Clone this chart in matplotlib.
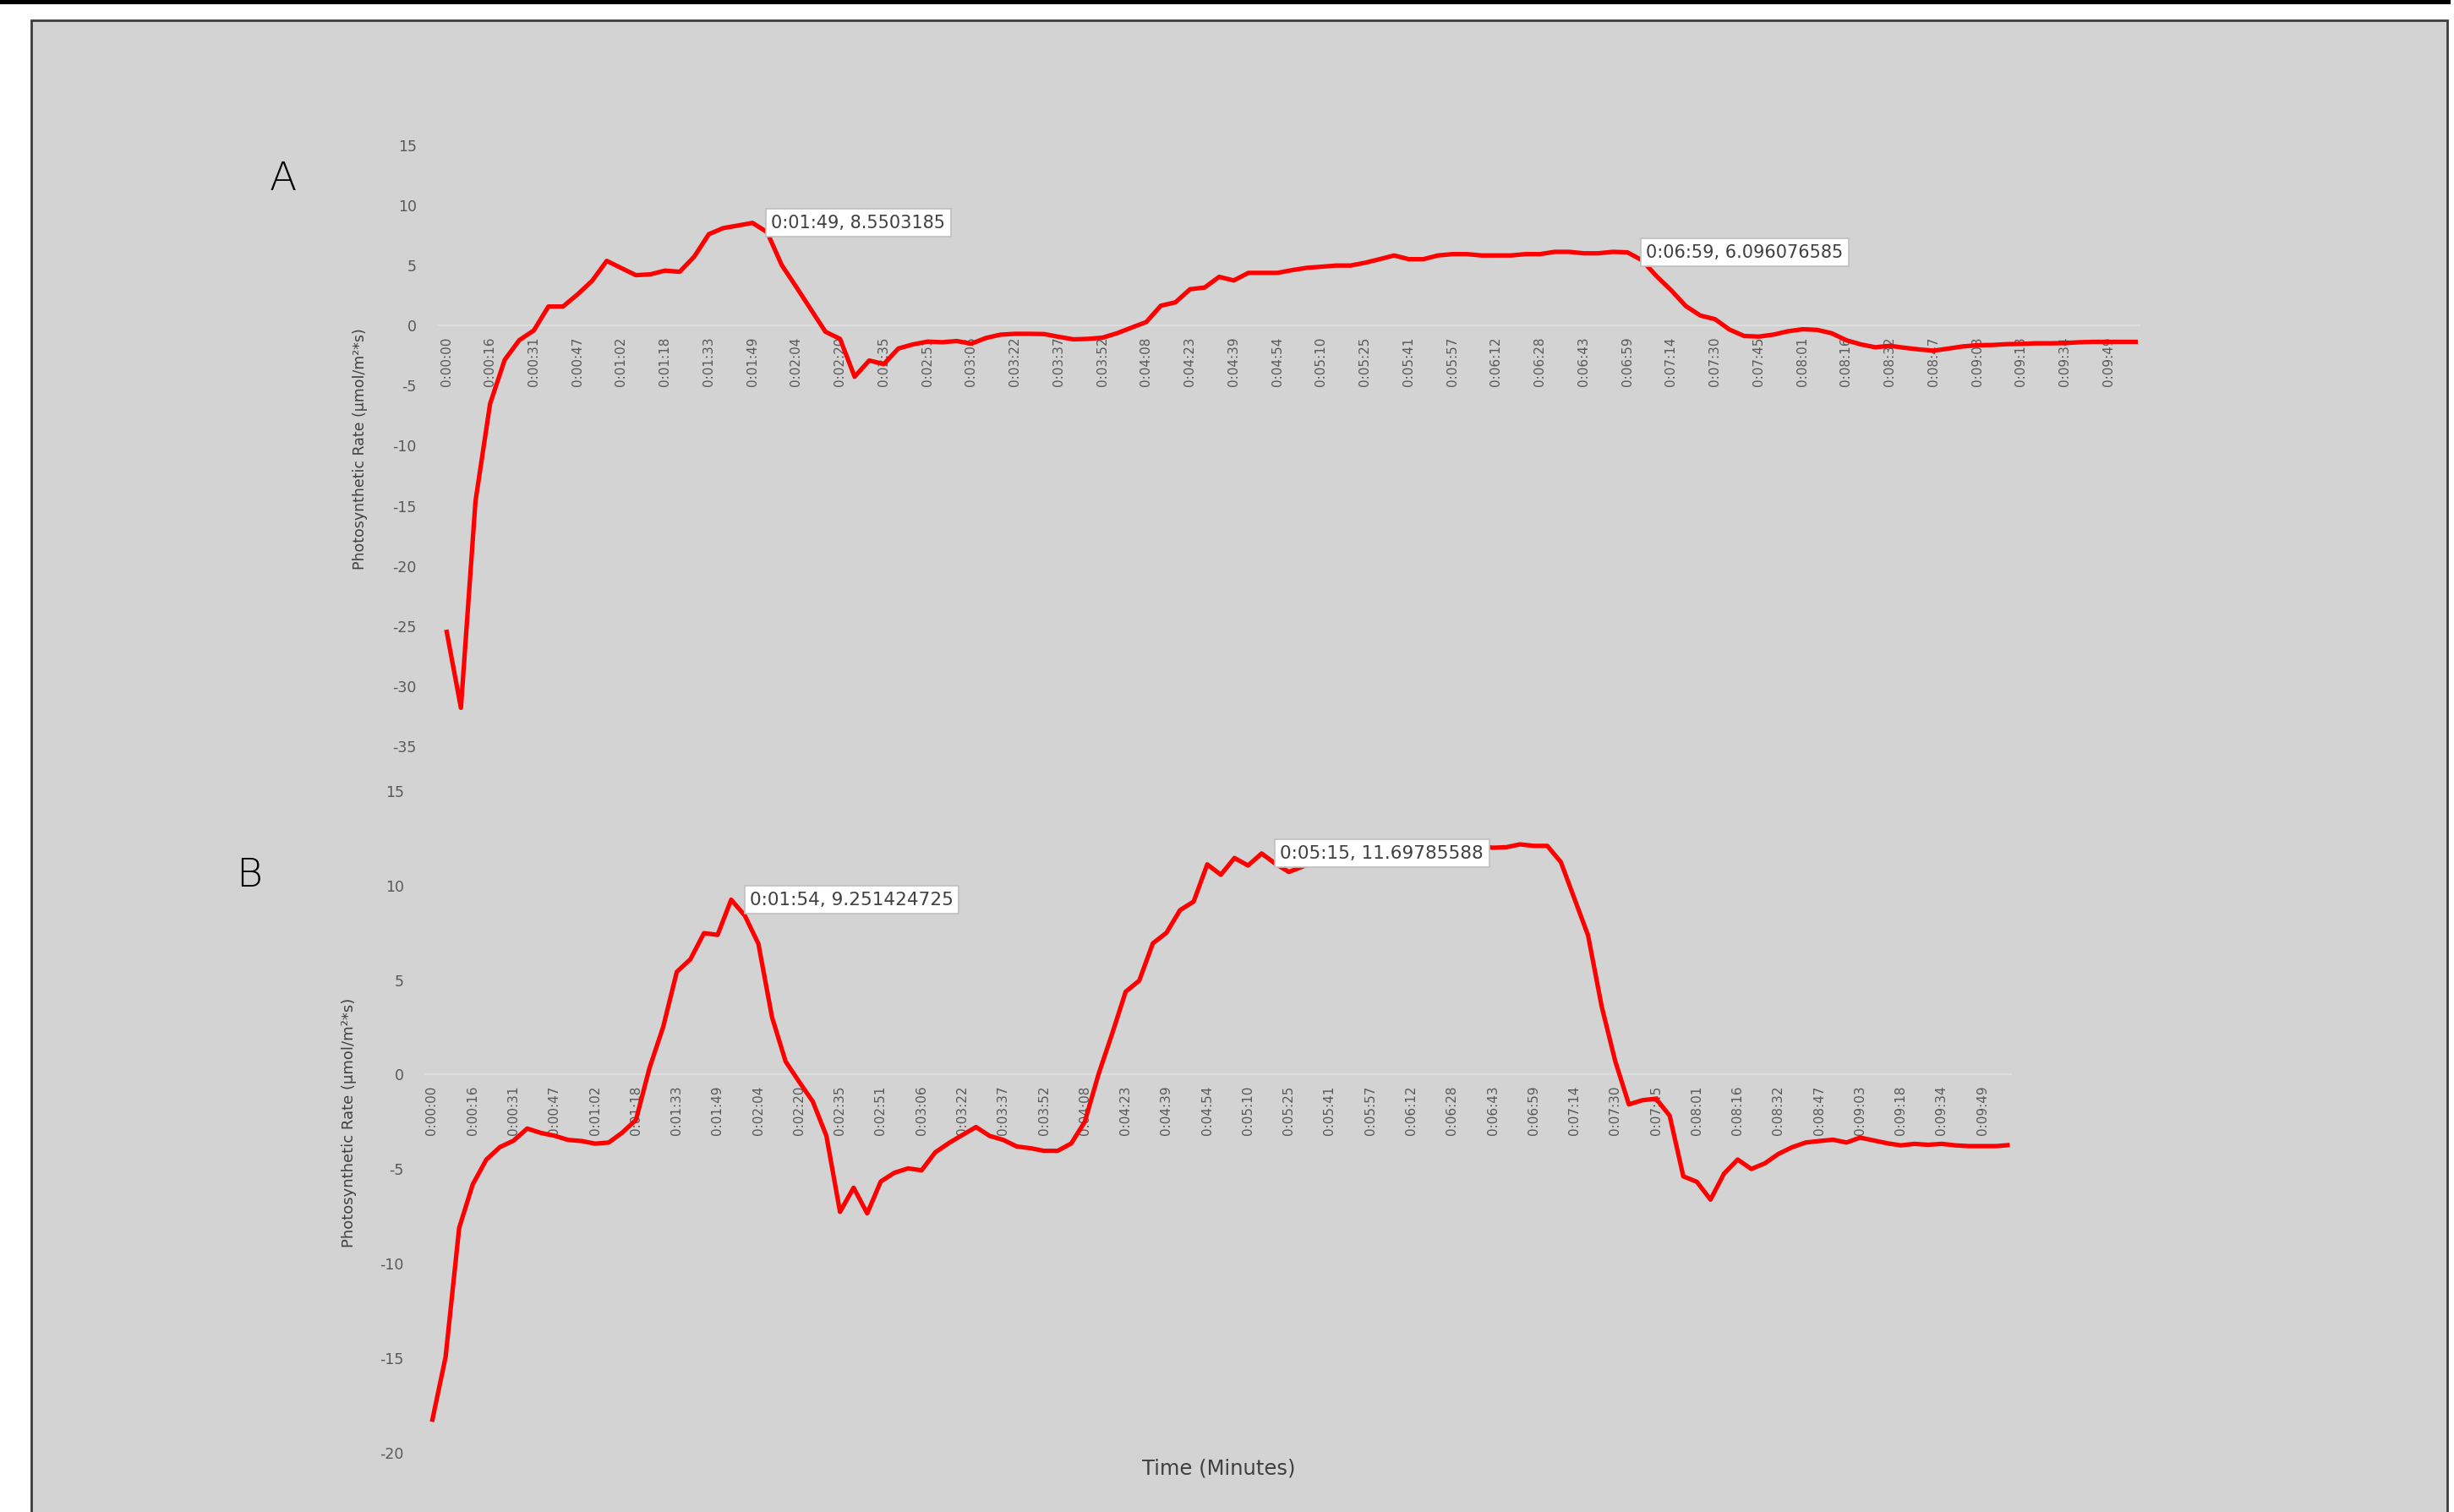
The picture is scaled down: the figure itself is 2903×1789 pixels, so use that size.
import matplotlib
matplotlib.use("Agg")
import matplotlib.pyplot as plt
from matplotlib.patches import Rectangle

# ---------------- data ----------------
time_labels = ['0:00:00', '0:00:16', '0:00:31', '0:00:47', '0:01:02', '0:01:18', '0:01:33',
               '0:01:49', '0:02:04', '0:02:20', '0:02:35', '0:02:51', '0:03:06', '0:03:22',
               '0:03:37', '0:03:52', '0:04:08', '0:04:23', '0:04:39', '0:04:54', '0:05:10',
               '0:05:25', '0:05:41', '0:05:57', '0:06:12', '0:06:28', '0:06:43', '0:06:59',
               '0:07:14', '0:07:30', '0:07:45', '0:08:01', '0:08:16', '0:08:32', '0:08:47',
               '0:09:03', '0:09:18', '0:09:34', '0:09:49']

rate_a = [-25.3, -31.8, -14.6, -6.5, -2.85, -1.21, -0.4, 1.59, 1.59, 2.6,
          3.73, 5.39, 4.79, 4.2, 4.27, 4.58, 4.48, 5.74, 7.61, 8.12,
          8.33, 8.5503185, 7.77, 5.04, 3.22, 1.35, -0.51, -1.1, -4.25, -2.9,
          -3.2, -1.9, -1.56, -1.33, -1.38, -1.28, -1.5, -1.03, -0.75, -0.68,
          -0.68, -0.7, -0.93, -1.14, -1.1, -1.0, -0.63, -0.16, 0.3, 1.66,
          1.94, 3.03, 3.17, 4.06, 3.76, 4.39, 4.39, 4.39, 4.62, 4.81,
          4.9, 5.0, 5.0, 5.23, 5.53, 5.84, 5.53, 5.53, 5.84, 5.95,
          5.95, 5.84, 5.84, 5.84, 5.95, 5.95, 6.14, 6.14, 6.02, 6.02,
          6.14, 6.096076585, 5.44, 4.11, 2.94, 1.63, 0.84, 0.54, -0.33, -0.86,
          -0.91, -0.75, -0.47, -0.3, -0.35, -0.63, -1.21, -1.56, -1.8, -1.68,
          -1.84, -1.98, -2.08, -1.91, -1.73, -1.63, -1.61, -1.54, -1.52, -1.47,
          -1.47, -1.45, -1.38, -1.35, -1.35, -1.35, -1.35]

rate_b = [-18.38, -14.96, -8.12, -5.81, -4.5, -3.84, -3.5, -2.86, -3.09, -3.24,
          -3.46, -3.52, -3.66, -3.6, -3.07, -2.4, 0.36, 2.52, 5.43, 6.1,
          7.48, 7.39, 9.251424725, 8.41, 6.92, 3.04, 0.69, -0.39, -1.43, -3.25,
          -7.27, -5.99, -7.35, -5.66, -5.2, -4.97, -5.07, -4.12, -3.63, -3.2,
          -2.78, -3.25, -3.46, -3.81, -3.9, -4.04, -4.04, -3.65, -2.5, 0.0,
          2.14, 4.38, 4.97, 6.94, 7.5, 8.7, 9.15, 11.12, 10.57, 11.46,
          11.06, 11.69785588, 11.16, 10.72, 11.0, 11.3, 11.5, 11.6, 11.7, 11.8,
          11.8, 11.9, 11.9, 12.0, 11.9, 12.0, 12.0, 12.1, 12.0, 12.03,
          12.18, 12.1, 12.1, 11.24, 9.3, 7.36, 3.6, 0.7, -1.58, -1.36,
          -1.28, -2.18, -5.39, -5.68, -6.62, -5.24, -4.5, -5.0, -4.7, -4.2,
          -3.85, -3.6, -3.52, -3.45, -3.6, -3.34, -3.49, -3.64, -3.75, -3.67,
          -3.72, -3.67, -3.75, -3.79, -3.79, -3.79, -3.73]

ann_a_index = [21, 81]
ann_a_time = ['0:01:49', '0:06:59']
ann_b_index = [22, 61]
ann_b_time = ['0:01:54', '0:05:15']

yticks_a = [15, 10, 5, 0, -5, -10, -15, -20, -25, -30, -35]
yticks_b = [15, 10, 5, 0, -5, -10, -15, -20]
ylabel_text = 'Photosynthetic Rate (µmol/m²*s)'
xlabel_text = 'Time (Minutes)'

# ---------------- figure ----------------
W, H, DPI = 2903, 1789, 100
fig = plt.figure(figsize=(W / DPI, H / DPI), dpi=DPI)
fig.patch.set_facecolor('white')


def fx(px):
    return px / W


def fy(py):
    return 1 - py / H


# grey panel with dark border and black bar at top (behind the axes)
fig.patches.append(Rectangle((fx(37), fy(1800)), fx(2895) - fx(37), fy(24) - fy(1800),
                             transform=fig.transFigure, facecolor='#d3d3d3',
                             edgecolor='#3c3c3c', linewidth=2.0, zorder=-2))
fig.patches.append(Rectangle((0, fy(5)), fx(2899), fy(0) - fy(5),
                             transform=fig.transFigure, facecolor='black',
                             edgecolor='none', zorder=-2))

TICK_COLOR = '#595959'
LABEL_COLOR = '#404040'
xt = list(range(0, 3 * len(time_labels), 3))


def make_axes(rect, data, yticks, ylim, xlim, ann_idx, ann_time, ann_fs, ann_off):
    ax = fig.add_axes(rect)
    ax.set_facecolor('none')
    for s in ['left', 'top', 'right']:
        ax.spines[s].set_visible(False)
    ax.spines['bottom'].set_position(('data', 0))
    ax.spines['bottom'].set_color('#dedede')
    ax.spines['bottom'].set_linewidth(1.5)
    ax.set_xlim(*xlim)
    ax.set_ylim(*ylim)
    ax.set_yticks(yticks)
    ax.set_yticklabels([str(t) for t in yticks])
    ax.set_xticks(xt)
    ax.set_xticklabels(time_labels, rotation=90)
    ax.tick_params(axis='x', length=0, pad=9.5, labelsize=11, labelcolor=TICK_COLOR)
    ax.tick_params(axis='y', length=0, pad=18, labelsize=12.5, labelcolor=TICK_COLOR)
    ax.plot(range(len(data)), data, color='#ff0000', lw=3.8,
            solid_joinstyle='round', solid_capstyle='butt', zorder=3, clip_on=False)
    for i, t in zip(ann_idx, ann_time):
        ax.annotate(f'{t}, {data[i]}', xy=(i, data[i]), xytext=(ann_off, 0),
                    textcoords='offset pixels', ha='left', va='center',
                    fontsize=ann_fs, color=LABEL_COLOR, zorder=5,
                    bbox=dict(boxstyle='square,pad=0.3', fc='white', ec='#bfbfbf', lw=1.2))
    return ax


# chart A: x_px = 528 + 17.25*i ; y: 15 -> 172px, -35 -> 883px
xa0, xa1 = -0.6, 116.1
axA = make_axes([fx(528 + 17.25 * xa0), fy(883), (17.25 * (xa1 - xa0)) / W, fy(172) - fy(883)],
                rate_a, yticks_a, (-35, 15), (xa0, xa1), ann_a_index, ann_a_time, 15, 22)

# chart B: x_px = 511 + 16.09*i ; y: 15 -> 936px, -20 -> 1718.5px
xb0, xb1 = -0.5, 116.1
axB = make_axes([fx(511 + 16.09 * xb0), fy(1718.5), (16.09 * (xb1 - xb0)) / W, fy(936) - fy(1718.5)],
                rate_b, yticks_b, (-20, 15), (xb0, xb1), ann_b_index, ann_b_time, 15.5, 22)

# axis titles and panel letters
fig.text(fx(426), fy(531), ylabel_text, rotation=90, ha='center', va='center',
         fontsize=12.5, color=LABEL_COLOR)
fig.text(fx(413), fy(1328), ylabel_text, rotation=90, ha='center', va='center',
         fontsize=13, color=LABEL_COLOR)
fig.text(fx(1442), fy(1738), xlabel_text, ha='center', va='center',
         fontsize=17.5, color=LABEL_COLOR)
fig.text(fx(335), fy(212), 'A', ha='center', va='center', fontsize=34,
         color='black', fontweight='light')
fig.text(fx(295), fy(1036), 'B', ha='center', va='center', fontsize=34,
         color='black', fontweight='light')

fig.savefig('out.png', dpi=DPI)
